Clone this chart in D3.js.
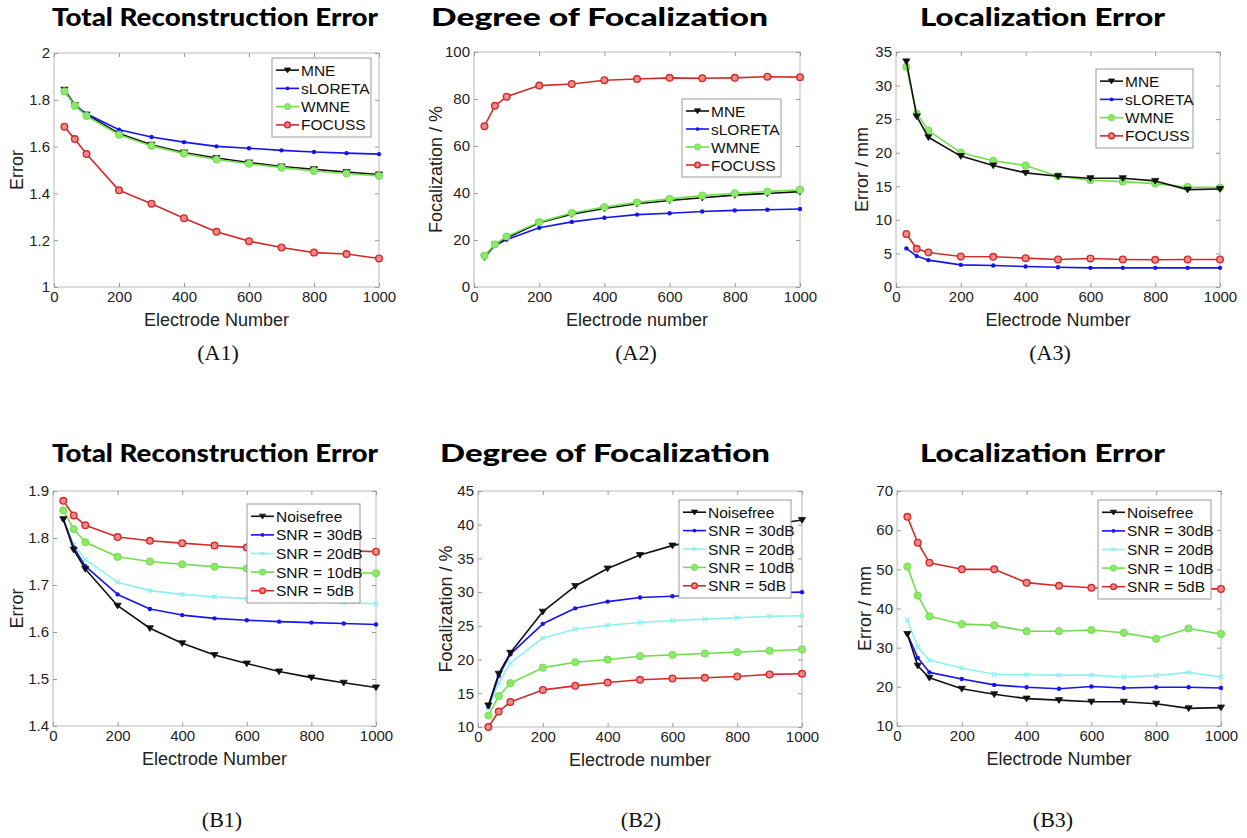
<!DOCTYPE html>
<html>
<head>
<meta charset="utf-8">
<script src="https://cdn.jsdelivr.net/npm/d3@7"></script>
<style>
  html, body { margin: 0; padding: 0; background: #fff; }
  svg { display: block; }
</style>
</head>
<body>
<svg id="fig" width="1247" height="838"></svg>
<script>
// Electrode counts used in every panel
const electrodes = [32, 64, 100, 200, 300, 400, 500, 600, 700, 800, 900, 1000];
const xTicks = [0, 200, 400, 600, 800, 1000];

// (A1) Total reconstruction error per method
const a1MNE      = [1.843, 1.778, 1.737, 1.656, 1.608, 1.575, 1.551, 1.532, 1.515, 1.503, 1.491, 1.481];
const a1sLORETA  = [1.840, 1.777, 1.740, 1.672, 1.641, 1.619, 1.601, 1.593, 1.584, 1.577, 1.572, 1.568];
const a1WMNE     = [1.836, 1.775, 1.731, 1.651, 1.603, 1.570, 1.545, 1.527, 1.510, 1.496, 1.485, 1.475];
const a1FOCUSS   = [1.685, 1.632, 1.568, 1.413, 1.356, 1.294, 1.236, 1.196, 1.169, 1.147, 1.141, 1.122];

// (A2) Degree of focalization per method (%)
const a2MNE      = [12.7, 18.0, 20.8, 27.3, 31.0, 33.4, 35.4, 36.8, 38.0, 39.1, 39.8, 40.6];
const a2sLORETA  = [13.0, 17.6, 20.2, 25.2, 27.7, 29.5, 30.8, 31.4, 32.1, 32.6, 32.9, 33.2];
const a2WMNE     = [13.3, 18.1, 21.5, 27.6, 31.5, 34.0, 36.0, 37.5, 38.9, 39.9, 40.6, 41.4];
const a2FOCUSS   = [68.4, 77.1, 81.0, 85.7, 86.4, 88.0, 88.5, 89.0, 88.8, 89.0, 89.5, 89.3];

// (A3) Localization error per method (mm)
const a3MNE      = [33.6, 25.4, 22.3, 19.5, 18.1, 17.0, 16.5, 16.2, 16.2, 15.8, 14.5, 14.6];
const a3sLORETA  = [5.75, 4.6, 4.0, 3.3, 3.2, 3.05, 2.95, 2.85, 2.85, 2.85, 2.85, 2.85];
const a3WMNE     = [32.8, 25.8, 23.3, 20.0, 18.8, 18.1, 16.5, 15.9, 15.7, 15.4, 14.9, 14.8];
const a3FOCUSS   = [7.9, 5.7, 5.15, 4.55, 4.5, 4.3, 4.1, 4.25, 4.1, 4.05, 4.1, 4.1];

// (B1) Total reconstruction error per noise level
const b1Noisefree = [1.840, 1.775, 1.734, 1.656, 1.608, 1.576, 1.551, 1.533, 1.516, 1.503, 1.492, 1.482];
const b1SNR30     = [1.840, 1.780, 1.740, 1.680, 1.649, 1.636, 1.629, 1.625, 1.622, 1.620, 1.618, 1.616];
const b1SNR20     = [1.840, 1.786, 1.754, 1.706, 1.688, 1.680, 1.675, 1.671, 1.668, 1.665, 1.662, 1.660];
const b1SNR10     = [1.859, 1.819, 1.791, 1.760, 1.750, 1.744, 1.739, 1.735, 1.732, 1.729, 1.727, 1.725];
const b1SNR5      = [1.879, 1.848, 1.827, 1.802, 1.794, 1.789, 1.784, 1.780, 1.777, 1.775, 1.773, 1.771];

// (B2) Degree of focalization per noise level (%)
const b2Noisefree = [13.2, 17.9, 21.0, 27.1, 30.9, 33.5, 35.5, 36.9, 37.9, 39.0, 40.0, 40.7];
const b2SNR30     = [13.0, 17.6, 20.8, 25.3, 27.6, 28.6, 29.2, 29.4, 29.6, 29.8, 29.9, 30.0];
const b2SNR20     = [12.8, 16.6, 19.5, 23.2, 24.5, 25.1, 25.5, 25.8, 26.0, 26.2, 26.4, 26.5];
const b2SNR10     = [11.7, 14.6, 16.5, 18.8, 19.6, 20.0, 20.5, 20.7, 20.9, 21.1, 21.3, 21.5];
const b2SNR5      = [10.0, 12.3, 13.7, 15.5, 16.1, 16.6, 17.0, 17.2, 17.3, 17.5, 17.8, 17.9];

// (B3) Localization error per noise level (mm)
const b3Noisefree = [33.5, 25.4, 22.3, 19.5, 18.1, 17.0, 16.6, 16.2, 16.2, 15.7, 14.5, 14.7];
const b3SNR30     = [33.5, 27.4, 23.7, 22.0, 20.5, 19.9, 19.5, 20.1, 19.7, 19.9, 19.9, 19.7];
const b3SNR20     = [37.0, 30.2, 26.8, 24.8, 23.2, 23.1, 23.0, 23.0, 22.5, 22.9, 23.7, 22.5];
const b3SNR10     = [50.7, 43.3, 38.0, 36.0, 35.7, 34.2, 34.2, 34.5, 33.8, 32.3, 34.9, 33.5];
const b3SNR5      = [63.4, 56.8, 51.7, 50.0, 50.0, 46.6, 45.8, 45.3, 45.2, 45.1, 45.0, 45.0];

const methodNames = ["MNE", "sLORETA", "WMNE", "FOCUSS"];
const noiseNames  = ["Noisefree", "SNR = 30dB", "SNR = 20dB", "SNR = 10dB", "SNR = 5dB"];

// Line + marker styles
const STY = {
  black: { color: "#111111", marker: "tri" },
  blue:  { color: "#1515f0", marker: "dot" },
  green: { color: "#6fe04a", marker: "circle" },
  red:   { color: "#d42a2a", marker: "ring" },
  cyan:  { color: "#8ef0f0", marker: "cross" }
};

const panels = [
  {
    title: "Total Reconstruction Error", titleX0: 52, titleX1: 378, titleY: 26,
    caption: "(A1)", capX: 218, capY: 360,
    box: { x: 54, y: 53, w: 325, h: 234 }, yLabOff: 31,
    yDomain: [1, 2], yTicks: [1, 1.2, 1.4, 1.6, 1.8, 2], yFmt: d => d3.format("~g")(d),
    xLabel: "Electrode Number", yLabel: "Error",
    series: [[a1MNE, "black"], [a1sLORETA, "blue"], [a1WMNE, "green"], [a1FOCUSS, "red"]],
    names: methodNames, styles: ["black", "blue", "green", "red"],
    legend: { x: 272, y: 58, w: 99, h: 79 }
  },
  {
    title: "Degree of Focalization", titleX0: 431, titleX1: 768, titleY: 26,
    caption: "(A2)", capX: 636, capY: 360,
    box: { x: 474, y: 52, w: 326, h: 235 }, yLabOff: 32,
    yDomain: [0, 100], yTicks: [0, 20, 40, 60, 80, 100], yFmt: d => d,
    xLabel: "Electrode number", yLabel: "Focalization / %",
    series: [[a2FOCUSS, "red"], [a2sLORETA, "blue"], [a2MNE, "black"], [a2WMNE, "green"]],
    names: methodNames, styles: ["black", "blue", "green", "red"],
    legend: { x: 682, y: 99, w: 99, h: 78 }
  },
  {
    title: "Localization Error", titleX0: 920, titleX1: 1165, titleY: 26,
    caption: "(A3)", capX: 1050, capY: 360,
    box: { x: 896, y: 52, w: 324, h: 235 }, yLabOff: 28,
    yDomain: [0, 35], yTicks: [0, 5, 10, 15, 20, 25, 30, 35], yFmt: d => d,
    xLabel: "Electrode Number", yLabel: "Error / mm",
    series: [[a3sLORETA, "blue"], [a3FOCUSS, "red"], [a3WMNE, "green"], [a3MNE, "black"]],
    names: methodNames, styles: ["black", "blue", "green", "red"],
    legend: { x: 1096, y: 69, w: 97, h: 79 }
  },
  {
    title: "Total Reconstruction Error", titleX0: 52, titleX1: 378, titleY: 462,
    caption: "(B1)", capX: 222, capY: 827,
    box: { x: 53, y: 491, w: 323, h: 235 }, yLabOff: 30,
    yDomain: [1.4, 1.9], yTicks: [1.4, 1.5, 1.6, 1.7, 1.8, 1.9], yFmt: d => d3.format(".1f")(d),
    xLabel: "Electrode Number", yLabel: "Error",
    series: [[b1SNR5, "red"], [b1SNR10, "green"], [b1SNR20, "cyan"], [b1SNR30, "blue"], [b1Noisefree, "black"]],
    names: noiseNames, styles: ["black", "blue", "cyan", "green", "red"],
    legend: { x: 247, y: 504, w: 113, h: 99 }
  },
  {
    title: "Degree of Focalization", titleX0: 440, titleX1: 770, titleY: 462,
    caption: "(B2)", capX: 641, capY: 827,
    box: { x: 478, y: 491, w: 324, h: 236 }, yLabOff: 26,
    yDomain: [10, 45], yTicks: [10, 15, 20, 25, 30, 35, 40, 45], yFmt: d => d,
    xLabel: "Electrode number", yLabel: "Focalization / %",
    series: [[b2SNR5, "red"], [b2SNR10, "green"], [b2SNR20, "cyan"], [b2SNR30, "blue"], [b2Noisefree, "black"]],
    names: noiseNames, styles: ["black", "blue", "cyan", "green", "red"],
    legend: { x: 679, y: 500, w: 112, h: 98 }
  },
  {
    title: "Localization Error", titleX0: 920, titleX1: 1165, titleY: 462,
    caption: "(B3)", capX: 1053, capY: 827,
    box: { x: 897, y: 491, w: 324, h: 235 }, yLabOff: 26,
    yDomain: [10, 70], yTicks: [10, 20, 30, 40, 50, 60, 70], yFmt: d => d,
    xLabel: "Electrode Number", yLabel: "Error / mm",
    series: [[b3SNR5, "red"], [b3SNR10, "green"], [b3SNR20, "cyan"], [b3SNR30, "blue"], [b3Noisefree, "black"]],
    names: noiseNames, styles: ["black", "blue", "cyan", "green", "red"],
    legend: { x: 1098, y: 500, w: 113, h: 99 }
  }
];

const svg = d3.select("#fig");
svg.append("rect").attr("width", 1247).attr("height", 838).attr("fill", "#fff");

const AXIS_FONT = "'Liberation Sans', Arial, Helvetica, sans-serif";

function drawMarker(g, type, color, x, y, scale = 1) {
  if (type === "tri") {
    const s = 3.6 * scale;
    g.append("path")
      .attr("d", `M${x - s},${y - s * 0.7} L${x + s},${y - s * 0.7} L${x},${y + s * 0.9} Z`)
      .attr("fill", color).attr("stroke", color).attr("stroke-width", 0.8);
  } else if (type === "dot") {
    g.append("circle").attr("cx", x).attr("cy", y).attr("r", 2.2 * scale).attr("fill", color);
  } else if (type === "circle") {
    g.append("circle").attr("cx", x).attr("cy", y).attr("r", 3.6 * scale)
      .attr("fill", "#8fe86c").attr("stroke", color).attr("stroke-width", 1);
  } else if (type === "ring") {
    g.append("circle").attr("cx", x).attr("cy", y).attr("r", 3.3 * scale)
      .attr("fill", "#ee8a8a").attr("stroke", color).attr("stroke-width", 1.4);
  } else if (type === "cross") {
    const s = 2.2 * scale;
    g.append("path")
      .attr("d", `M${x - s},${y - s} L${x + s},${y + s} M${x - s},${y + s} L${x + s},${y - s}`)
      .attr("stroke", color).attr("stroke-width", 1.4);
  }
}

panels.forEach(p => {
  const b = p.box;
  const g = svg.append("g");
  const x = d3.scaleLinear().domain([0, 1000]).range([b.x, b.x + b.w]);
  const y = d3.scaleLinear().domain(p.yDomain).range([b.y + b.h, b.y]);

  // Title, stretched to its span
  g.append("text")
    .attr("x", p.titleX0).attr("y", p.titleY)
    .attr("font-family", "Lato, 'Open Sans', sans-serif")
    .attr("font-weight", 900).attr("font-size", 25)
    .attr("textLength", p.titleX1 - p.titleX0).attr("lengthAdjust", "spacingAndGlyphs")
    .attr("fill", "#000")
    .text(p.title);

  // Axes box (frame)
  g.append("rect").attr("x", b.x).attr("y", b.y).attr("width", b.w).attr("height", b.h)
    .attr("fill", "#fff").attr("stroke", "#b9b9b9").attr("stroke-width", 1);

  // Ticks (inside, on all four sides) via d3 axes
  const tickStyle = sel => {
    sel.select(".domain").remove();
    sel.selectAll(".tick line").attr("stroke", "#9a9a9a");
  };
  const xb = g.append("g").attr("transform", `translate(0,${b.y + b.h})`)
    .call(d3.axisBottom(x).tickValues(xTicks).tickSize(-4).tickPadding(4).tickFormat(d3.format("d")));
  tickStyle(xb);
  xb.selectAll(".tick text").attr("font-family", AXIS_FONT).attr("font-size", 15).attr("fill", "#222");
  const xt = g.append("g").attr("transform", `translate(0,${b.y})`)
    .call(d3.axisTop(x).tickValues(xTicks).tickSize(-4).tickFormat(""));
  tickStyle(xt);
  const yl = g.append("g").attr("transform", `translate(${b.x},0)`)
    .call(d3.axisLeft(y).tickValues(p.yTicks).tickSize(-4).tickPadding(4).tickFormat(p.yFmt));
  tickStyle(yl);
  yl.selectAll(".tick text").attr("font-family", AXIS_FONT).attr("font-size", 15).attr("fill", "#222");
  const yr = g.append("g").attr("transform", `translate(${b.x + b.w},0)`)
    .call(d3.axisRight(y).tickValues(p.yTicks).tickSize(-4).tickFormat(""));
  tickStyle(yr);

  // Axis labels
  g.append("text")
    .attr("x", b.x + b.w / 2).attr("y", b.y + b.h + 39)
    .attr("text-anchor", "middle")
    .attr("font-family", AXIS_FONT).attr("font-size", 18).attr("fill", "#222")
    .text(p.xLabel);
  g.append("text")
    .attr("transform", `translate(${b.x - p.yLabOff},${b.y + b.h / 2}) rotate(-90)`)
    .attr("text-anchor", "middle")
    .attr("font-family", AXIS_FONT).attr("font-size", 18).attr("fill", "#222")
    .text(p.yLabel);

  // Series
  const line = d3.line().x((d, i) => x(electrodes[i])).y(d => y(d));
  p.series.forEach(([vals, key]) => {
    const st = STY[key];
    g.append("path").datum(vals).attr("d", line)
      .attr("fill", "none").attr("stroke", st.color).attr("stroke-width", 1.6)
      .attr("stroke-linejoin", "round");
    const mg = g.append("g");
    vals.forEach((v, i) => drawMarker(mg, st.marker, st.color, x(electrodes[i]), y(v)));
  });

  // Legend
  const L = p.legend;
  const lg = g.append("g");
  lg.append("rect").attr("x", L.x).attr("y", L.y).attr("width", L.w).attr("height", L.h)
    .attr("fill", "#fff").attr("stroke", "#9a9a9a").attr("stroke-width", 1);
  const n = p.names.length;
  const rowH = (L.h - 6) / n;
  p.names.forEach((name, i) => {
    const st = STY[p.styles[i]];
    const cy = L.y + 3 + rowH * (i + 0.5);
    lg.append("line").attr("x1", L.x + 4).attr("x2", L.x + 27).attr("y1", cy).attr("y2", cy)
      .attr("stroke", st.color).attr("stroke-width", 1.6);
    drawMarker(lg, st.marker, st.color, L.x + 15.5, cy, 0.85);
    lg.append("text").attr("x", L.x + 29).attr("y", cy).attr("dy", "0.36em")
      .attr("font-family", AXIS_FONT).attr("font-size", 15.5).attr("fill", "#111")
      .text(name);
  });

  // Panel caption
  g.append("text")
    .attr("x", p.capX).attr("y", p.capY)
    .attr("text-anchor", "middle")
    .attr("font-family", "'Liberation Serif', 'Times New Roman', serif")
    .attr("font-size", 22).attr("fill", "#111")
    .text(p.caption);
});
</script>
</body>
</html>
